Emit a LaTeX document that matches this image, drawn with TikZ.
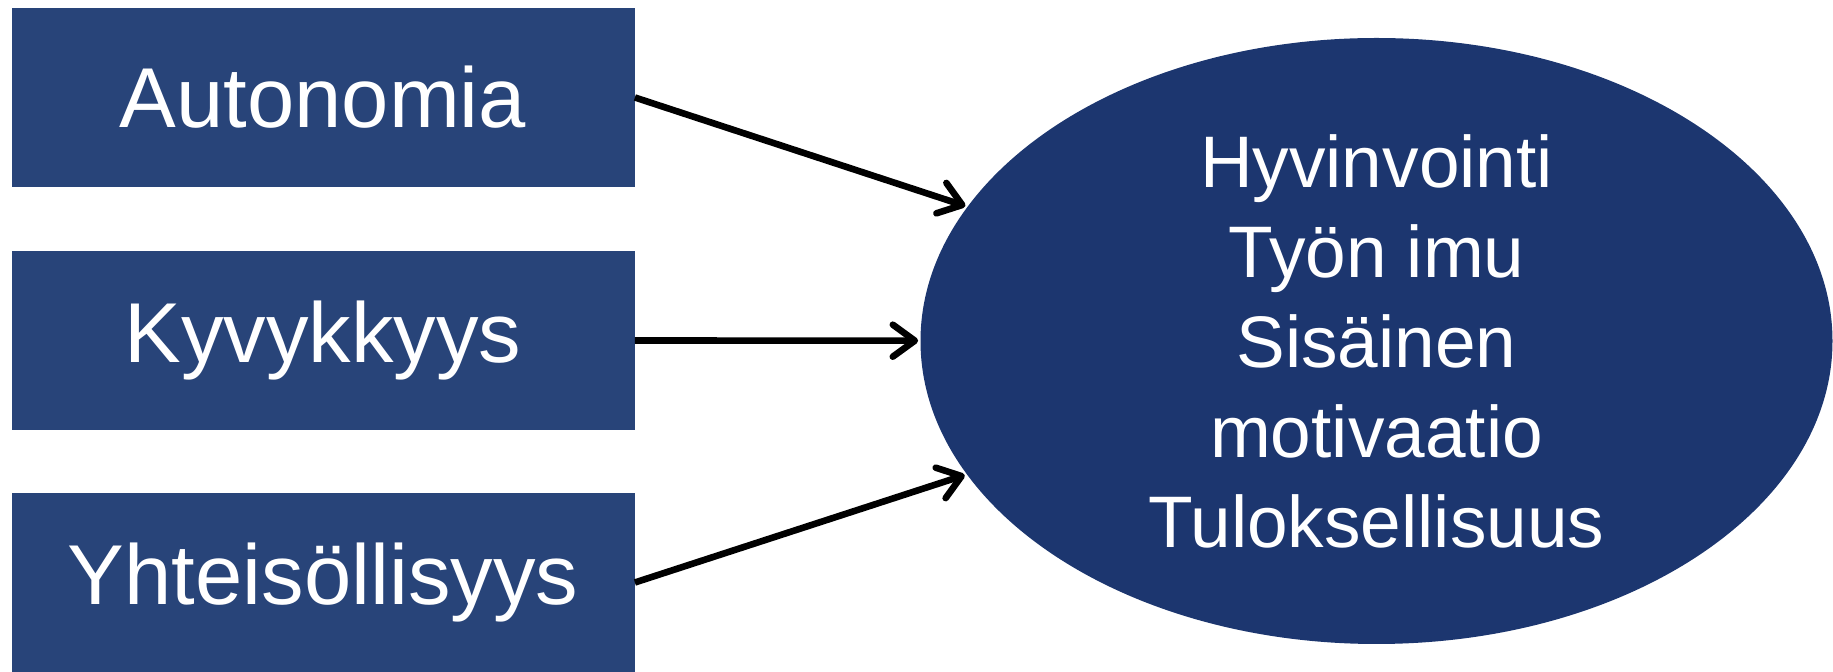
\documentclass[tikz,border=0pt]{standalone}
\usepackage{fontspec}
\setmainfont{Liberation Sans}
\usetikzlibrary{arrows.meta,shapes.geometric}
\definecolor{boxblue}{HTML}{284479}
\definecolor{ovalblue}{HTML}{1C366F}
\tikzset{
  factor/.style={rectangle, fill=boxblue, text=white, inner sep=0pt,
    minimum width=311.5pt, minimum height=89.5pt,
    font=\fontsize{42.5}{50}\selectfont},
  outcome/.style={ellipse, fill=ovalblue, text=white, inner sep=0pt,
    minimum width=456pt, minimum height=303pt, align=center,
    font=\fontsize{36.5}{45}\selectfont},
  link/.style={line width=3.3pt, draw=black, shorten >=1pt,
    -{Straight Barb[length=11pt, width=16pt, round]}}
}
\begin{document}
\begin{tikzpicture}[x=0.5pt, y=-0.5pt]
  \useasboundingbox (0,0) rectangle (1833,672);
  % three factor boxes on the left
  \node[factor] (auto) at (323,97.5)  {Autonomia};
  \node[factor] (kyky) at (323,340.5) {Kyvykkyys};
  \node[factor] (yht)  at (323,582.5) {Yhteisöllisyys};
  % outcome ellipse on the right
  \node[outcome] (out) at (1376.5,341)
    {Hyvinvointi\\Työn imu\\Sisäinen\\motivaatio\\Tuloksellisuus};
  % connectors
  \draw[link] (auto.east) -- (out);
  \draw[link] (kyky.east) -- (out);
  \draw[link] (yht.east)  -- (out);
\end{tikzpicture}
\end{document}
